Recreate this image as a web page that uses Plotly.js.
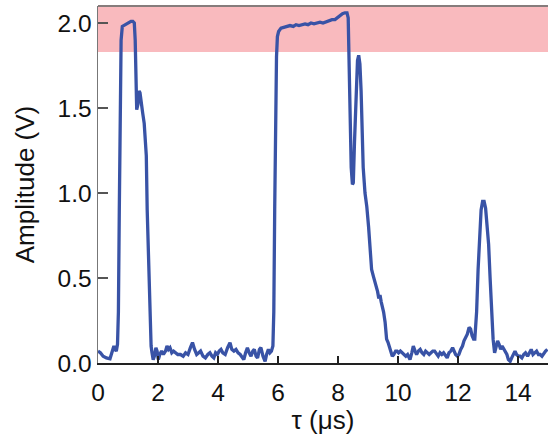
<!DOCTYPE html>
<html>
<head>
<meta charset="utf-8">
<script src="https://cdn.plot.ly/plotly-3.0.1.min.js"></script>
<style>html,body{margin:0;padding:0;background:#fff}#chart{width:548px;height:435px}</style>
</head>
<body>
<div id="chart"></div>
<script>
// Time axis (µs)
const tau = [
0.00,0.08,0.17,0.28,0.40,0.47,0.53,0.57,0.61,0.65,0.68,0.71,0.74,0.77,0.81,0.90,1.00,1.10,1.16,1.21,
1.24,1.27,1.29,1.33,1.37,1.40,1.44,1.49,1.54,1.58,1.61,1.64,1.68,1.71,1.74,1.77,1.80,1.84,1.88,1.93,
1.97,2.01,2.06,2.12,2.18,2.25,2.30,2.35,2.40,2.46,2.52,2.58,2.66,2.75,2.84,2.92,3.00,3.08,3.15,3.22,
3.29,3.36,3.42,3.50,3.58,3.66,3.73,3.80,3.86,3.92,3.98,4.04,4.10,4.16,4.24,4.32,4.40,4.46,4.53,4.60,
4.67,4.74,4.80,4.86,4.92,4.98,5.04,5.10,5.16,5.21,5.27,5.32,5.38,5.43,5.50,5.57,5.62,5.68,5.73,5.78,
5.83,5.86,5.89,5.92,5.95,5.98,6.02,6.10,6.20,6.30,6.40,6.51,6.60,6.70,6.80,6.90,7.00,7.10,7.20,7.30,
7.40,7.50,7.62,7.70,7.80,7.90,8.00,8.07,8.15,8.23,8.30,8.34,8.37,8.40,8.44,8.48,8.51,8.55,8.60,8.65,
8.69,8.73,8.77,8.80,8.84,8.90,8.96,9.02,9.07,9.12,9.18,9.23,9.28,9.32,9.36,9.40,9.44,9.48,9.52,9.57,
9.62,9.67,9.72,9.77,9.81,9.86,9.92,9.97,10.02,10.08,10.14,10.20,10.26,10.32,10.40,10.46,10.51,10.57,10.62,10.68,
10.74,10.80,10.86,10.92,10.98,11.04,11.10,11.16,11.22,11.28,11.34,11.40,11.46,11.52,11.58,11.64,11.70,11.76,11.82,11.86,
11.92,11.98,12.03,12.09,12.15,12.20,12.26,12.31,12.37,12.42,12.47,12.52,12.56,12.62,12.67,12.72,12.77,12.82,12.87,12.92,
12.97,13.02,13.07,13.12,13.17,13.22,13.27,13.32,13.37,13.42,13.47,13.53,13.58,13.63,13.68,13.74,13.79,13.84,13.90,13.95,
14.01,14.07,14.13,14.19,14.25,14.32,14.38,14.44,14.50,14.56,14.62,14.68,14.74,14.80,14.86,14.92,14.98
];
// Amplitude (V)
const amplitude = [
0.07,0.06,0.04,0.03,0.025,0.06,0.10,0.08,0.07,0.11,0.30,0.90,1.60,1.90,1.98,1.99,2.00,2.01,2.01,2.00,
1.90,1.74,1.49,1.52,1.60,1.59,1.52,1.47,1.41,1.33,1.22,0.90,0.60,0.37,0.20,0.10,0.06,0.02,0.04,0.09,
0.07,0.02,0.05,0.07,0.05,0.07,0.10,0.08,0.09,0.06,0.07,0.06,0.05,0.05,0.04,0.06,0.05,0.09,0.12,0.08,
0.05,0.06,0.07,0.04,0.03,0.05,0.06,0.04,0.03,0.06,0.05,0.07,0.08,0.06,0.05,0.09,0.12,0.08,0.07,0.08,
0.06,0.05,0.03,0.02,0.06,0.09,0.06,0.04,0.07,0.08,0.04,0.03,0.08,0.09,0.04,0.01,0.05,0.08,0.06,0.07,
0.10,0.30,0.90,1.40,1.80,1.92,1.95,1.97,1.975,1.98,1.985,1.98,1.99,1.985,1.99,1.995,1.99,2.00,1.995,2.00,
2.005,2.00,2.01,2.015,2.02,2.02,2.035,2.04,2.055,2.06,2.06,2.03,1.80,1.40,1.15,1.05,1.06,1.30,1.60,1.78,
1.81,1.76,1.60,1.40,1.15,1.00,0.92,0.80,0.65,0.55,0.51,0.48,0.46,0.42,0.38,0.40,0.36,0.33,0.30,0.24,
0.14,0.12,0.09,0.06,0.04,0.05,0.07,0.07,0.06,0.07,0.06,0.05,0.04,0.05,0.02,0.06,0.10,0.07,0.05,0.07,
0.08,0.06,0.05,0.07,0.06,0.05,0.06,0.07,0.07,0.05,0.04,0.06,0.05,0.06,0.04,0.03,0.06,0.07,0.09,0.07,
0.05,0.04,0.05,0.08,0.10,0.13,0.15,0.17,0.21,0.20,0.16,0.14,0.14,0.30,0.55,0.78,0.90,0.95,0.95,0.91,
0.82,0.70,0.50,0.30,0.14,0.06,0.10,0.13,0.11,0.08,0.10,0.08,0.07,0.05,0.02,0.01,0.03,0.05,0.07,0.05,
0.04,0.04,0.03,0.05,0.06,0.04,0.06,0.08,0.05,0.06,0.07,0.05,0.05,0.04,0.06,0.07,0.08
];
// Highlighted saturation band (V)
const bandLow = 1.83;
const bandHigh = 2.1;
const xTicks = [0,2,4,6,8,10,12,14];
const yTicks = [0.0,0.5,1.0,1.5,2.0];

const fam = '"Liberation Sans", Arial, sans-serif';

Plotly.newPlot('chart', [{
  x: tau, y: amplitude, type: 'scatter', mode: 'lines',
  line: {color: '#3953a6', width: 3.3}, hoverinfo: 'skip'
}], {
  width: 548, height: 435,
  margin: {l: 98, r: 0, t: 6, b: 72},
  paper_bgcolor: '#fff', plot_bgcolor: '#fff',
  showlegend: false,
  font: {family: fam, color: '#111'},
  xaxis: {
    range: [0, 15], tickvals: xTicks, ticktext: xTicks.map(String),
    ticks: 'inside', ticklen: 7, tickwidth: 1.5, tickcolor: '#222',
    showline: true, linecolor: '#222', linewidth: 1.5,
    showgrid: false, zeroline: false, ticklabelstandoff: 7,
    tickfont: {size: 24.5, family: fam, color: '#111'},
    title: {text: 'τ (μs)', font: {size: 26, family: fam, color: '#111'}, standoff: 4}
  },
  yaxis: {
    range: [0, 2.1], tickvals: yTicks, ticktext: yTicks.map(v => v.toFixed(1)),
    ticks: 'inside', ticklen: 10, tickwidth: 1.5, tickcolor: '#555',
    showline: true, linecolor: '#777', linewidth: 1.5,
    showgrid: false, zeroline: false,
    tickfont: {size: 24.5, family: fam, color: '#111'},
    title: {text: 'Amplitude (V)', font: {size: 26, family: fam, color: '#111'}, standoff: 15}
  },
  shapes: [
    {type: 'rect', xref: 'paper', x0: 0, x1: 1, yref: 'y', y0: bandLow, y1: bandHigh,
     fillcolor: 'rgb(249,186,190)', line: {width: 0}, layer: 'below'},
    {type: 'line', xref: 'paper', x0: 0, x1: 1, yref: 'paper', y0: 1, y1: 1,
     line: {color: '#867c7c', width: 2}}
  ]
}, {staticPlot: true, displayModeBar: false});
</script>
</body>
</html>
